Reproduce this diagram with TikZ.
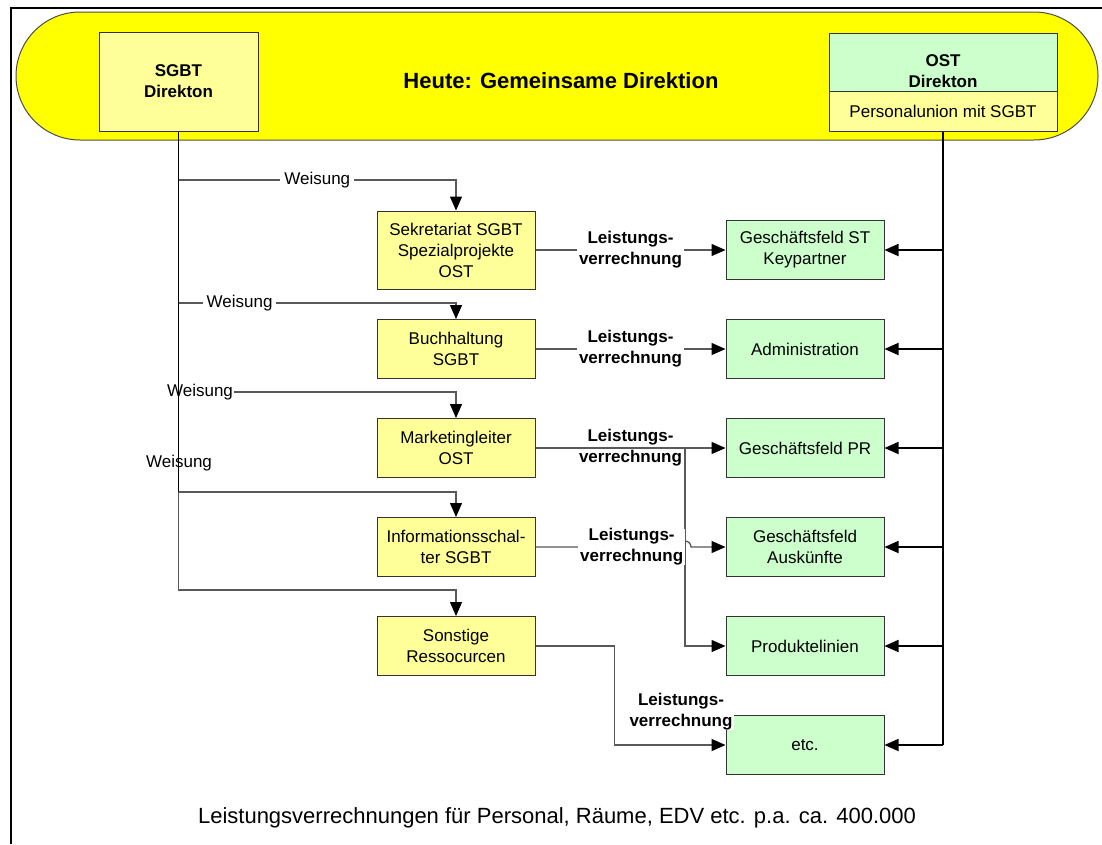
\documentclass[tikz,border=0pt]{standalone}
\usepackage{fontspec}
\setmainfont{Liberation Sans}
\usetikzlibrary{arrows.meta}
\definecolor{gelbband}{HTML}{FFFF00}
\definecolor{hellgelb}{HTML}{FFFF99}
\definecolor{hellgruen}{HTML}{CCFFCC}
\newcommand{\normschrift}{\fontsize{17}{21}\selectfont}
\newcommand{\grossschrift}{\fontsize{22}{26}\selectfont}
\tikzset{
  kasten/.style={draw=black!80, line width=1pt, minimum width=158pt, minimum height=59pt,
    align=center, font=\normschrift, inner sep=3pt},
  gelbkasten/.style={kasten, fill=hellgelb},
  gruenkasten/.style={kasten, fill=hellgruen},
  wtext/.style={font=\normschrift, fill=white, inner xsep=4pt, inner ysep=1pt},
  lvtext/.style={font={\normschrift\bfseries}, align=center, fill=white, inner xsep=2pt, inner ysep=0pt},
  duenn/.style={draw=black!65, line width=1.3pt},
  stark/.style={draw=black, line width=1.8pt},
  pfeil/.style={-{Triangle[length=14pt, width=12pt, color=black]}}
}
\begin{document}
\begin{tikzpicture}[x=1pt, y=-1pt]
  \useasboundingbox (0,0) rectangle (1102,844);
  \fill[white] (0,0) rectangle (1102,844);
  \draw[line width=1.5pt] (11,844) -- (11,8) -- (1102,8);
  \draw[fill=gelbband, draw=black!70, line width=1pt, rounded corners=64pt] (16,12) rectangle (1098,140);
  \node[font={\grossschrift\bfseries}] (titel) at (561,81) {Heute: Gemeinsame Direktion};
  % Direktionen
  \node[gelbkasten, font={\normschrift\bfseries}, minimum width=159pt, minimum height=99pt] (sgbt) at (178.5,81.5) {SGBT\\Direkton};
  \node[gruenkasten, minimum width=228pt, minimum height=58pt] (ost) at (943,62) {};
  \node[font={\normschrift\bfseries}, align=center] (osttitel) at (943,71.5) {OST\\Direkton};
  \node[gelbkasten, minimum width=228pt, minimum height=40pt] (ostpu) at (943,111) {Personalunion mit SGBT};
  % SGBT Stellen
  \node[gelbkasten, minimum height=78pt] (sekr) at (456,250) {Sekretariat SGBT\\Spezialprojekte\\OST};
  \node[gelbkasten] (buch) at (456,349) {Buchhaltung\\SGBT};
  \node[gelbkasten] (mark) at (456,448) {Marketingleiter\\OST};
  \node[gelbkasten] (info) at (456,547) {Informationsschal-\\ter SGBT};
  \node[gelbkasten] (sons) at (456,646) {Sonstige\\Ressocurcen};
  % OST Geschaeftsfelder
  \foreach \gf/\zy/\gtxt in {gst/250/{Geschäftsfeld ST\\Keypartner}, adm/349/Administration,
      gpr/448/{Geschäftsfeld PR}, gausk/547/{Geschäftsfeld\\Auskünfte}, prod/646/Produktelinien, etc/745/etc.}
    \node[gruenkasten] (\gf) at (805,\zy) {\gtxt};
  % Weisungen
  \coordinate (w1) at (178.5,180);
  \coordinate (w2) at (178.5,303);
  \coordinate (w4) at (178.5,492);
  \coordinate (w5) at (178.5,590);
  \draw[stark] (sgbt.south) -- (w4);
  \draw[duenn, pfeil] (w1) -| node[wtext, pos=0.25] {Weisung} (sekr.north);
  \draw[duenn, pfeil] (w2) -| node[wtext, pos=0.11] {Weisung} (buch.north);
  \node[wtext, fill=none, inner xsep=1pt] (w3text) at (200,392) {Weisung};
  \draw[duenn, pfeil] (w3text.east) -| (mark.north);
  \node[wtext, fill=none] (w4text) at (179,463) {Weisung};
  \draw[duenn, pfeil] (w4) -| (info.north);
  \draw[duenn, pfeil] (w4) -- (w5) -| (sons.north);
  % OST Linie
  \draw[stark] (ostpu.south) -- (ostpu.south |- etc.east);
  \foreach \gf in {gst, adm, gpr, gausk, prod, etc}
    \draw[stark, pfeil] (ostpu.south |- \gf.east) -- (\gf.east);
  % Leistungsverrechnung
  \draw[duenn, pfeil] (sekr.east) -- node[lvtext] {Leistungs-\\verrechnung} (gst.west);
  \draw[duenn, pfeil] (buch.east) -- node[lvtext] {Leistungs-\\verrechnung} (adm.west);
  \draw[duenn, pfeil] (mark.east) -- node[lvtext, fill=none] {Leistungs-\\verrechnung} (gpr.west);
  \coordinate (abzw) at (685,448);
  \draw[duenn, pfeil] (abzw) |- (prod.west);
  \draw[duenn, pfeil] (info.east) -- node[lvtext, pos=0.67] {Leistungs-\\verrechnung} (679,547)
    arc[start angle=180, end angle=360, radius=6] -- (gausk.west);
  \draw[duenn, pfeil] (sons.east) -- ++(79,0) |- (etc.west);
  \node[lvtext] (lv6) at (681,712) {Leistungs-\\verrechnung};
  \node[font=\grossschrift] (fuss) at (557,818) {Leistungsverrechnungen für Personal, Räume, EDV etc. p.a. ca. 400.000};
\end{tikzpicture}
\end{document}
